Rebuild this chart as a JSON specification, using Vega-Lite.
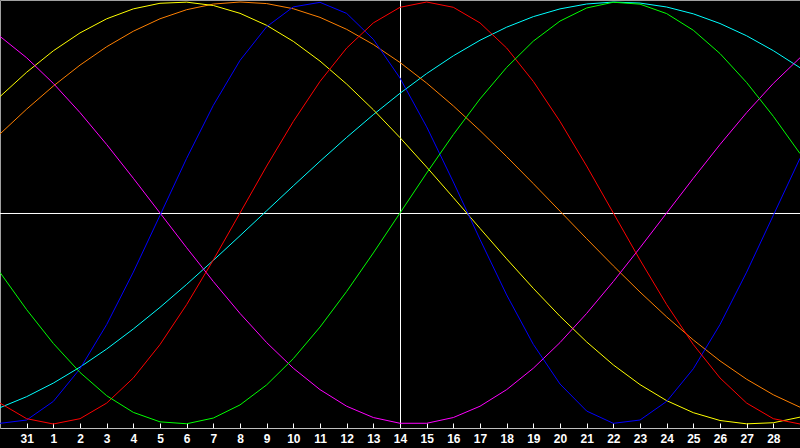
{
  "$schema": "https://vega.github.io/schema/vega-lite/v6.json",
  "width": 800,
  "height": 428,
  "autosize": {"type": "none"},
  "padding": {"left": 0, "top": 0, "right": 0, "bottom": 20},
  "background": "black",
  "config": {
    "view": {"stroke": "#a0a0a0", "strokeWidth": 1},
    "axisX": {
      "title": null,
      "grid": false,
      "domainColor": "#c0c0c0",
      "tickColor": "white",
      "tickSize": -5,
      "labelPadding": 10,
      "labelColor": "white",
      "labelFont": "Liberation Sans",
      "labelFontWeight": "bold",
      "labelFontSize": 12,
      "labelOverlap": false,
      "labelFlush": false,
      "labelBound": false
    }
  },
  "datasets": {
    "curves": [
      {"t": 0, "p23": -0.9969, "p28": -0.9010, "p33": -0.2817, "p38": 0.8371, "p43": 0.5517, "p48": 0.3746, "p53": -0.9226},
      {"t": 1, "p23": -0.9813, "p28": -0.9749, "p33": -0.4582, "p38": 0.7357, "p43": 0.6671, "p48": 0.4924, "p53": -0.8705},
      {"t": 2, "p23": -0.8929, "p28": -1.0, "p33": -0.6182, "p38": 0.6142, "p43": 0.7687, "p48": 0.6018, "p53": -0.8061},
      {"t": 3, "p23": -0.7383, "p28": -0.9749, "p33": -0.7557, "p38": 0.4759, "p43": 0.8535, "p48": 0.7009, "p53": -0.7305},
      {"t": 4, "p23": -0.5288, "p28": -0.9010, "p33": -0.8660, "p38": 0.3247, "p43": 0.9204, "p48": 0.7880, "p53": -0.6447},
      {"t": 5, "p23": -0.2803, "p28": -0.7818, "p33": -0.9450, "p38": 0.1646, "p43": 0.9675, "p48": 0.8616, "p53": -0.5497},
      {"t": 6, "p23": -0.0110, "p28": -0.6235, "p33": -0.9898, "p38": 0.0, "p43": 0.9940, "p48": 0.9205, "p53": -0.4472},
      {"t": 7, "p23": 0.2593, "p28": -0.4339, "p33": -0.9989, "p38": -0.1646, "p43": 0.9993, "p48": 0.9636, "p53": -0.3382},
      {"t": 8, "p23": 0.5103, "p28": -0.2225, "p33": -0.9718, "p38": -0.3247, "p43": 0.9834, "p48": 0.9903, "p53": -0.2245},
      {"t": 9, "p23": 0.7232, "p28": 0.0, "p33": -0.9096, "p38": -0.4759, "p43": 0.9464, "p48": 1.0, "p53": -0.1077},
      {"t": 10, "p23": 0.8828, "p28": 0.2225, "p33": -0.8146, "p38": -0.6142, "p43": 0.8894, "p48": 0.9925, "p53": 0.0106},
      {"t": 11, "p23": 0.9768, "p28": 0.4339, "p33": -0.6901, "p38": -0.7357, "p43": 0.8133, "p48": 0.9681, "p53": 0.1288},
      {"t": 12, "p23": 0.9984, "p28": 0.6235, "p33": -0.5406, "p38": -0.8371, "p43": 0.7200, "p48": 0.9272, "p53": 0.2453},
      {"t": 13, "p23": 0.9459, "p28": 0.7818, "p33": -0.3717, "p38": -0.9158, "p43": 0.6111, "p48": 0.8704, "p53": 0.3582},
      {"t": 14, "p23": 0.8233, "p28": 0.9010, "p33": -0.1893, "p38": -0.9694, "p43": 0.4894, "p48": 0.7986, "p53": 0.4661},
      {"t": 15, "p23": 0.6395, "p28": 0.9749, "p33": 0.0, "p38": -0.9966, "p43": 0.3572, "p48": 0.7133, "p53": 0.5674},
      {"t": 16, "p23": 0.4083, "p28": 1.0, "p33": 0.1893, "p38": -0.9966, "p43": 0.2175, "p48": 0.6157, "p53": 0.6609},
      {"t": 17, "p23": 0.1470, "p28": 0.9749, "p33": 0.3717, "p38": -0.9694, "p43": 0.0730, "p48": 0.5075, "p53": 0.7450},
      {"t": 18, "p23": -0.1253, "p28": 0.9010, "p33": 0.5406, "p38": -0.9158, "p43": -0.0730, "p48": 0.3907, "p53": 0.8187},
      {"t": 19, "p23": -0.3884, "p28": 0.7818, "p33": 0.6901, "p38": -0.8371, "p43": -0.2175, "p48": 0.2672, "p53": 0.8808},
      {"t": 20, "p23": -0.6227, "p28": 0.6235, "p33": 0.8146, "p38": -0.7357, "p43": -0.3572, "p48": 0.1392, "p53": 0.9307},
      {"t": 21, "p23": -0.8106, "p28": 0.4339, "p33": 0.9096, "p38": -0.6142, "p43": -0.4894, "p48": 0.0087, "p53": 0.9674},
      {"t": 22, "p23": -0.9386, "p28": 0.2225, "p33": 0.9718, "p38": -0.4759, "p43": -0.6111, "p48": -0.1219, "p53": 0.9906},
      {"t": 23, "p23": -0.9969, "p28": 0.0, "p33": 0.9989, "p38": -0.3247, "p43": -0.7200, "p48": -0.2504, "p53": 0.9998},
      {"t": 24, "p23": -0.9812, "p28": -0.2225, "p33": 0.9898, "p38": -0.1646, "p43": -0.8133, "p48": -0.3746, "p53": 0.9950},
      {"t": 25, "p23": -0.8929, "p28": -0.4339, "p33": 0.9450, "p38": 0.0, "p43": -0.8894, "p48": -0.4924, "p53": 0.9763},
      {"t": 26, "p23": -0.7382, "p28": -0.6235, "p33": 0.8660, "p38": 0.1646, "p43": -0.9464, "p48": -0.6018, "p53": 0.9439},
      {"t": 27, "p23": -0.5286, "p28": -0.7818, "p33": 0.7557, "p38": 0.3247, "p43": -0.9834, "p48": -0.7009, "p53": 0.8981},
      {"t": 28, "p23": -0.2802, "p28": -0.9010, "p33": 0.6182, "p38": 0.4759, "p43": -0.9993, "p48": -0.7880, "p53": 0.8398},
      {"t": 29, "p23": -0.0108, "p28": -0.9749, "p33": 0.4582, "p38": 0.6142, "p43": -0.9940, "p48": -0.8616, "p53": 0.7694},
      {"t": 30, "p23": 0.2593, "p28": -1.0, "p33": 0.2817, "p38": 0.7357, "p43": -0.9675, "p48": -0.9205, "p53": 0.6886}
    ],
    "zero": [{"v": 0}],
    "today": [{"t": 15}]
  },
  "layer": [
    {
      "data": {"name": "zero"},
      "mark": {"type": "rule", "color": "white", "strokeWidth": 1, "yOffset": 0.5},
      "encoding": {
        "y": {"field": "v", "type": "quantitative", "scale": {"domain": [-1.019, 1.0095]}, "axis": null}
      }
    },
    {
      "data": {"name": "today"},
      "mark": {"type": "rule", "color": "white", "strokeWidth": 1, "xOffset": 0.5},
      "encoding": {
        "x": {
          "field": "t",
          "type": "quantitative",
          "scale": {"domain": [0, 30], "nice": false},
          "axis": {
            "values": [1, 2, 3, 4, 5, 6, 7, 8, 9, 10, 11, 12, 13, 14, 15, 16, 17, 18, 19, 20, 21, 22, 23, 24, 25, 26, 27, 28, 29],
            "labelExpr": "datum.value == 1 ? '31' : '' + (datum.value - 1)",
            "labelOverlap": false
          }
        }
      }
    },
    {
      "data": {"name": "curves"},
      "transform": [
        {"fold": ["p53", "p48", "p43", "p38", "p23", "p28", "p33"], "as": ["curve", "v"]}
      ],
      "mark": {"type": "line", "strokeWidth": 1, "clip": true},
      "encoding": {
        "x": {
          "field": "t",
          "type": "quantitative",
          "scale": {"domain": [0, 30], "nice": false},
          "axis": {
            "values": [1, 2, 3, 4, 5, 6, 7, 8, 9, 10, 11, 12, 13, 14, 15, 16, 17, 18, 19, 20, 21, 22, 23, 24, 25, 26, 27, 28, 29],
            "labelExpr": "datum.value == 1 ? '31' : '' + (datum.value - 1)",
            "labelOverlap": false
          }
        },
        "y": {
          "field": "v",
          "type": "quantitative",
          "scale": {"domain": [-1.019, 1.0095], "nice": false, "zero": false},
          "axis": null
        },
        "color": {
          "field": "curve",
          "type": "nominal",
          "scale": {
            "domain": ["p23", "p28", "p33", "p38", "p43", "p48", "p53"],
            "range": ["#0000ff", "#ff0000", "#00ff00", "#ff00ff", "#ffff00", "#ff8000", "#00ffff"]
          },
          "legend": null
        },
        "order": {"field": "t", "type": "quantitative"}
      }
    }
  ]
}
